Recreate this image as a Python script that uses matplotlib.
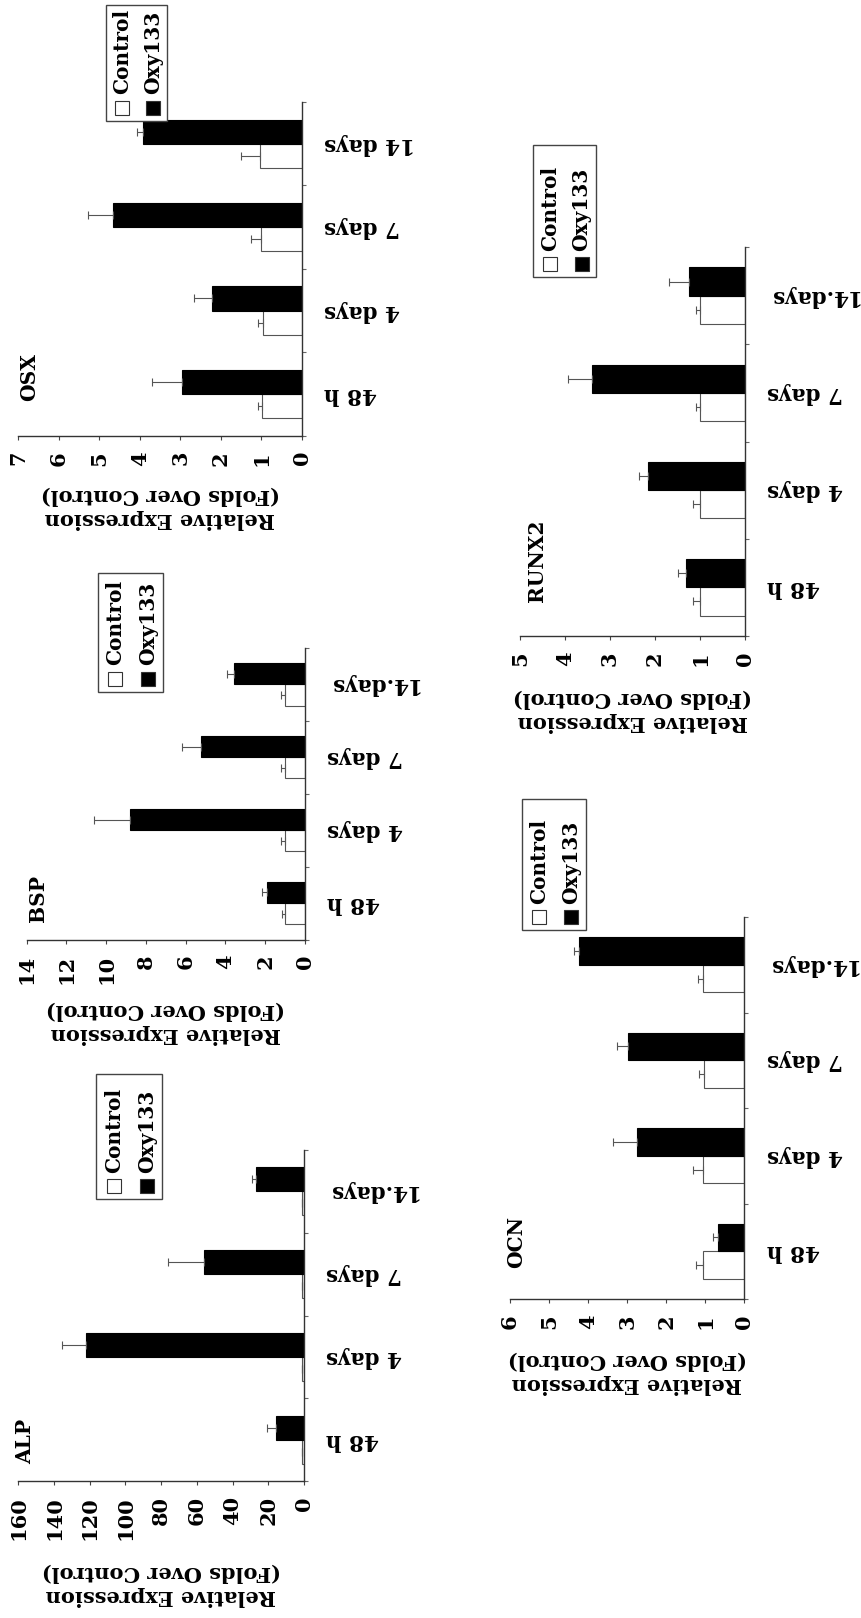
import matplotlib
matplotlib.use("Agg")
import matplotlib.pyplot as plt
from matplotlib.patches import Rectangle
import numpy as np

W, H = 862, 1618

plt.rcParams['font.family'] = ['DejaVu Serif']
plt.rcParams['font.weight'] = 'bold'
plt.rcParams['axes.labelweight'] = 'bold'

# data
cats = ["48 h", "4 days", "7 days", "14.days"]
cats_osx = ["48 h", "4 days", "7 days", "14 days"]
series = ["Control", "Oxy133"]

alp_ctrl = [1.0, 1.0, 1.0, 1.0]
alp_ctrl_err = [0.4, 0.4, 0.4, 0.4]
alp_oxy = [15.7, 122.3, 56.0, 26.9]
alp_oxy_err = [5.2, 13.4, 20.0, 2.0]

bsp_ctrl = [1.0, 1.0, 1.0, 1.0]
bsp_ctrl_err = [0.17, 0.2, 0.2, 0.2]
bsp_oxy = [1.93, 8.8, 5.23, 3.55]
bsp_oxy_err = [0.25, 1.8, 0.97, 0.35]

osx_ctrl = [0.99, 0.97, 1.0, 1.04]
osx_ctrl_err = [0.09, 0.11, 0.27, 0.46]
osx_oxy = [2.95, 2.23, 4.66, 3.92]
osx_oxy_err = [0.76, 0.43, 0.62, 0.14]

runx2_ctrl = [1.0, 1.0, 1.0, 1.0]
runx2_ctrl_err = [0.15, 0.15, 0.1, 0.1]
runx2_oxy = [1.31, 2.15, 3.41, 1.24]
runx2_oxy_err = [0.19, 0.2, 0.52, 0.44]

ocn_ctrl = [1.05, 1.05, 1.02, 1.05]
ocn_ctrl_err = [0.19, 0.27, 0.13, 0.13]
ocn_oxy = [0.67, 2.74, 2.99, 4.23]
ocn_oxy_err = [0.12, 0.61, 0.28, 0.13]

ylab = "Relative Expression\n(Folds Over Control)"

fig = plt.figure(figsize=(W / 100, H / 100), dpi=100)


def fx(x):
    return x / W


def fy(y):
    return 1 - y / H


def panel(name, labels, ctrl, ctrl_err, oxy, oxy_err, vmax, step,
          box, title_xy, legend_box, label_top):
    x0, x1, y0, y1 = box
    ax = fig.add_axes([fx(x0), fy(y1), (x1 - x0) / W, (y1 - y0) / H])
    y = np.arange(len(labels))
    bh = 0.29
    ax.barh(y - bh / 2, ctrl, height=bh, color='white', edgecolor='#555555', linewidth=0.8)
    ax.barh(y + bh / 2, oxy, height=bh, color='black', edgecolor='black', linewidth=0.8)
    z = np.zeros(len(labels))
    ax.errorbar(ctrl, y - bh / 2, xerr=[z, ctrl_err], fmt='none',
                ecolor='#555555', elinewidth=0.8, capsize=3, capthick=0.8)
    ax.errorbar(oxy, y + bh / 2, xerr=[z, oxy_err], fmt='none',
                ecolor='#555555', elinewidth=0.8, capsize=3, capthick=0.8)

    ax.set_xlim(vmax, 0)
    ax.set_ylim(-0.5, len(labels) - 0.5)
    ax.set_xticks(np.arange(0, vmax + step / 2, step))
    ax.tick_params(axis='x', direction='out', length=3, width=0.8, color='#444444',
                   labelsize=15, labelrotation=90, pad=8)
    ax.yaxis.tick_right()
    ax.set_yticks(y)
    ax.set_yticklabels(labels, rotation=180, va='center', fontsize=15.5)
    ax.set_yticks(np.arange(-0.5, len(labels)), minor=True)
    ax.tick_params(axis='y', which='major', length=0, pad=16)
    ax.tick_params(axis='y', which='minor', direction='out', length=3,
                   width=0.8, color='#666666')
    for s in ['left', 'top']:
        ax.spines[s].set_visible(False)
    for s in ['right', 'bottom']:
        ax.spines[s].set_color('#333333')
        ax.spines[s].set_linewidth(1.0)

    ax.set_xlabel(ylab, rotation=180, fontsize=15, fontweight='bold', linespacing=1.25)
    ax.xaxis.set_label_coords(0.5, -(label_top - y1) / (y1 - y0))

    fig.text(fx(title_xy[0]), fy(title_xy[1]), name, rotation=90,
             ha='center', va='bottom', fontsize=14.5)

    # legend drawn by hand, rotated like the rest of the figure
    lx0, lx1, ly0, ly1 = legend_box
    fig.add_artist(Rectangle((fx(lx0), fy(ly1)), (lx1 - lx0) / W, (ly1 - ly0) / H,
                             transform=fig.transFigure, facecolor='white',
                             edgecolor='#444444', linewidth=1.0))
    lw = lx1 - lx0
    sq = 14
    for frac, lab, col in [(0.27, series[0], 'white'), (0.77, series[1], 'black')]:
        cx = lx0 + frac * lw
        fig.add_artist(Rectangle((fx(cx - sq / 2), fy(ly1 - 6)), sq / W, sq / H,
                                 transform=fig.transFigure, facecolor=col,
                                 edgecolor='#333333', linewidth=0.8))
        fig.text(fx(cx), fy(ly1 - 6 - sq - 6), lab, rotation=90,
                 ha='center', va='bottom', fontsize=14.5)
    return ax


panel("OSX", cats_osx, osx_ctrl, osx_ctrl_err, osx_oxy, osx_oxy_err, 7, 1,
      (18.3, 302, 102, 435.6), (29, 401), (106, 167, 5, 120.5), 485.5)
panel("BSP", cats, bsp_ctrl, bsp_ctrl_err, bsp_oxy, bsp_oxy_err, 14, 2,
      (26.7, 305, 648, 939.5), (38.5, 922), (97.7, 163, 572.7, 691.5), 1000)
panel("ALP", cats, alp_ctrl, alp_ctrl_err, alp_oxy, alp_oxy_err, 160, 20,
      (18.3, 304, 1150, 1481), (25, 1464), (95.7, 162.3, 1074, 1199), 1562)
panel("RUNX2", cats, runx2_ctrl, runx2_ctrl_err, runx2_oxy, runx2_oxy_err, 5, 1,
      (520, 745, 247, 636), (537.5, 602), (533, 596, 145, 277), 688)
panel("OCN", cats, ocn_ctrl, ocn_ctrl_err, ocn_oxy, ocn_oxy_err, 6, 1,
      (510, 744.3, 917, 1299), (516, 1268), (522, 586, 799, 930), 1350)

fig.savefig("out.png", dpi=100)
